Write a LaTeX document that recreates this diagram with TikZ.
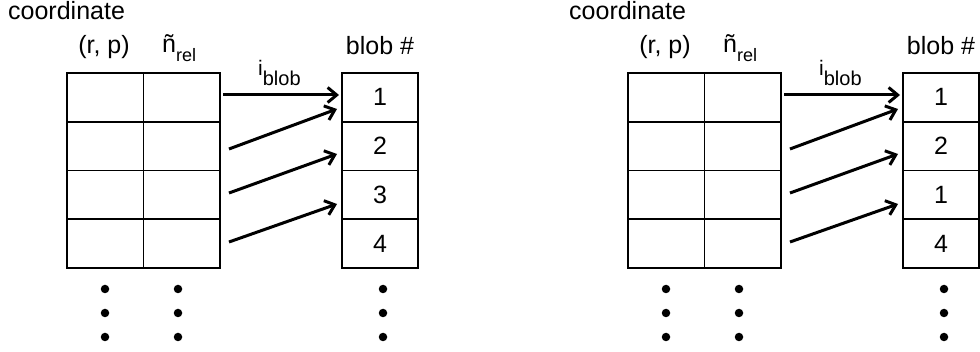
\documentclass[tikz,border=0pt]{standalone}
\usepackage{fontspec}
\setmainfont{Liberation Sans}
\usetikzlibrary{arrows.meta}
\tikzset{
  cell/.style={draw, line width=1.8pt, minimum width=76.5pt, minimum height=48.75pt, inner sep=0pt, outer sep=0pt, font=\fontsize{25}{30}\selectfont},
  lbl/.style={inner sep=0pt, font=\fontsize{25}{30}\selectfont},
  conn/.style={line width=3pt, -{Straight Barb[length=9pt, width=15pt]}},
  dot/.style={fill=black, draw=none, circle, minimum size=8.5pt, inner sep=0pt}
}
\begin{document}
\begin{tikzpicture}[x=1pt,y=-1pt]
\useasboundingbox (0,0) rectangle (980,352);
\foreach \dx/\n/\p in {0/3/L, 561/1/R}{
\begin{scope}[xshift=\dx pt, name prefix=\p-]
  % headers
  \node[lbl, anchor=base west] (coord) at (8,20) {coordinate};
  \node[lbl, anchor=base] (rp) at (104,54) {(r, p)};
  \node[lbl, anchor=base west] (nrel) at (162,53) {ñ\raisebox{-0.33em}{\fontsize{18}{20}\selectfont rel}};
  \node[lbl, anchor=base] (blobh) at (380,55) {blob \#};
  \node[lbl, anchor=base west] (ib) at (258,76) {\fontsize{21}{24}\selectfont i\raisebox{-0.45em}{\fontsize{20}{22}\selectfont blob}};
  % table cells
  \foreach \r/\y in {1/97.4, 2/146.1, 3/194.9, 4/243.6}{
    \node[cell] (a\r) at (105.25,\y) {};
    \node[cell] (b\r) at (181.75,\y) {};
  }
  \node[cell] (k1) at (380,97.4) {1};
  \node[cell] (k2) at (380,146.1) {2};
  \node[cell] (k3) at (380,194.9) {\n};
  \node[cell] (k4) at (380,243.6) {4};
  % connector ends
  \coordinate (s1) at (223,95);  \coordinate (e1) at (339,95);
  \coordinate (s2) at (229,149); \coordinate (e2) at (337,109);
  \coordinate (s3) at (229,193); \coordinate (e3) at (337,154);
  \coordinate (s4) at (229,242); \coordinate (e4) at (337,204);
  \foreach \i in {1,2,3,4}{ \draw[conn] (s\i) -- (e\i); }
  % dots
  \foreach \xx/\c in {105/u, 178/v, 383/w}{
    \foreach \yy/\j in {289/1, 313/2, 337/3}{
      \node[dot] (d\c\j) at (\xx,\yy) {};
    }
  }
\end{scope}
}
\end{tikzpicture}
\end{document}
